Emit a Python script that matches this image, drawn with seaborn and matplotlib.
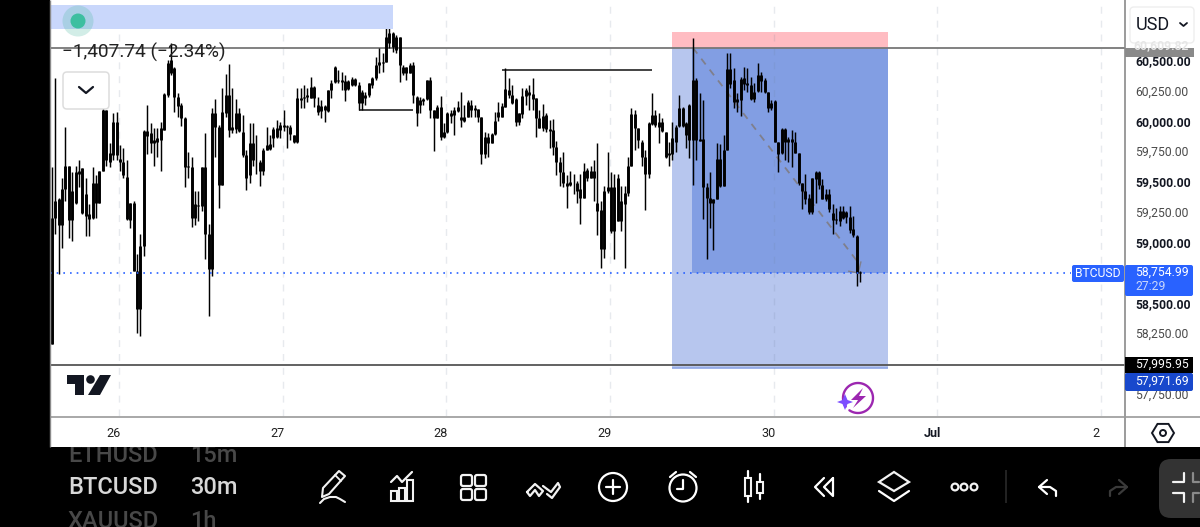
import numpy as np
import pandas as pd
import matplotlib
matplotlib.use("Agg")
import matplotlib.pyplot as plt
import seaborn as sns
from matplotlib.patches import Rectangle, FancyBboxPatch, Circle, Polygon
from matplotlib.transforms import ScaledTranslation

# BTCUSD 30-minute candles, 25 Jun to 30 Jun
highs = [59624,60359,59376,59541,59954,59632,59583,59640,59682,59616,59541,59326,59624,59558,59599,60153,60095,59822,60070,60078,
59806,59781,59682,59335,59351,58913,59078,59930,60136,59987,59946,59946,59996,60236,60508,60649,60450,60236,60153,60037,
59748,59707,59434,59434,59624,59905,59161,60112,60186,59971,60277,60392,60475,60277,60186,60112,60054,59764,59987,59987,
59888,59682,59781,59954,59888,59954,60012,59996,60095,59971,59971,59888,60277,60277,60302,60277,60368,60293,60202,60178,
60136,60260,60343,60459,60425,60409,60384,60343,60368,60359,60326,60260,60244,60318,60368,60533,60607,60566,60822,60822,
60740,60715,60698,60467,60450,60483,60492,60211,60202,60194,60343,60368,60095,60136,60211,59987,60078,60095,60120,60169,
60244,60136,60178,60178,60136,60103,60037,59913,59905,59905,60078,60161,60153,60442,60359,60302,60194,60070,60277,60277,
60302,60359,60194,60095,60145,60070,60012,60021,59839,59707,59748,59558,59599,59574,59516,59574,59657,59616,59640,59682,
59822,59351,59475,59748,59583,59574,59574,59475,59475,59707,60112,60095,59946,59847,59764,59996,60236,60095,60070,60029,
59913,59831,59996,59971,60219,60120,59996,60145,60690,60359,60236,60178,59492,59583,59368,59822,59814,59888,60566,60566,
60442,60236,60368,60450,60442,60368,60318,60483,60409,60359,60244,60178,60178,59831,59946,59946,59872,59930,59913,59740,
59500,59574,59409,59541,59599,59599,59533,59450,59450,59326,59293,59310,59310,59269,59310,59227,59070,58773]
body_tops = [59211,59351,59368,59450,59632,59632,59434,59583,59599,59616,59409,59244,59500,59500,59599,60095,60095,59740,59996,59996,
59690,59673,59549,59335,59335,58773,58979,59921,59921,59905,59847,59864,59946,60227,60483,60508,60442,60202,60136,60029,
59632,59624,59326,59318,59624,59624,59078,60070,60070,59954,60078,60219,60219,59954,60070,60070,59913,59723,59822,59822,
59673,59673,59764,59806,59814,59938,59946,59971,59971,59963,59954,59888,60194,60194,60202,60219,60285,60285,60136,60128,
60128,60260,60318,60450,60343,60343,60335,60335,60351,60351,60302,60244,60219,60318,60359,60467,60492,60492,60698,60731,
60731,60698,60698,60450,60450,60467,60467,60202,60178,60186,60343,60343,60095,60120,60120,59913,60070,60070,60095,60120,
60037,60037,60161,60136,60112,60103,60037,59872,59872,59897,60004,60078,60128,60269,60260,60219,60186,60070,60211,60260,
60244,60227,60194,60029,60045,60054,59938,59930,59789,59665,59583,59492,59508,59500,59500,59450,59599,59607,59599,59599,
59335,59277,59434,59459,59459,59459,59541,59351,59417,59640,60062,60062,59946,59831,59707,59987,60054,60054,59996,59996,
59913,59740,59864,59954,60112,60112,59987,60136,60343,60343,59855,59855,59459,59376,59368,59690,59690,59764,60434,60434,
60343,60186,60351,60359,60318,60302,60244,60384,60384,60343,60244,60153,60169,59831,59938,59938,59855,59855,59831,59740,
59500,59434,59376,59541,59583,59583,59483,59409,59409,59252,59202,59269,59269,59260,59219,59120,59062,58764]
body_bottoms = [58169,59211,59153,59153,59450,59194,59194,59335,59574,59252,59227,59202,59211,59335,59335,59599,59682,59673,59723,59723,
59665,59558,59202,59194,58773,58459,58459,58979,59880,59822,59822,59831,59847,59930,60219,60401,60202,60128,60029,59624,
59624,59211,59211,59310,59310,59078,58789,58789,59954,59483,59483,60070,59930,59930,59938,59921,59723,59541,59558,59682,
59665,59599,59599,59764,59773,59864,59872,59930,59954,59954,59897,59831,59831,60178,60194,60202,60194,60194,60078,60087,
60095,60087,60260,60326,60335,60326,60260,60269,60302,60302,60153,60153,60194,60219,60302,60359,60467,60483,60492,60649,
60616,60591,60467,60401,60401,60401,60219,60070,60136,60169,60186,60095,60029,60029,59872,59872,59913,60045,60054,60087,
60012,60004,60037,60095,60095,60037,59731,59731,59822,59822,59897,60037,60037,60120,60219,60153,59996,59996,60062,60211,
60219,60186,60029,59946,59946,59938,59921,59789,59665,59583,59492,59475,59483,59492,59434,59376,59376,59541,59541,59541,
59269,58954,58954,59434,59103,59103,59186,59186,59326,59417,59640,59946,59847,59707,59574,59574,59979,59971,59954,59921,
59707,59723,59731,59831,59963,59963,59888,59847,59847,59847,59839,59459,59376,59335,59335,59368,59475,59475,59764,60310,
60161,60161,60178,60310,60302,60186,60186,60252,60335,60244,60112,60112,59831,59731,59740,59831,59831,59831,59740,59500,
59426,59368,59260,59260,59533,59483,59368,59368,59285,59194,59194,59186,59211,59219,59112,59070,58755,58755]
lows = [58169,59078,58748,58963,59351,59045,59021,59326,59459,59244,59062,59062,59202,59211,59335,59599,59640,59624,59682,59682,
59599,59541,59194,59128,58773,58260,58236,58897,59731,59740,59632,59707,59599,59930,60202,60384,60078,60037,59963,59467,
59541,59136,59153,59186,59269,58872,58401,58731,59707,59293,59483,60037,59872,59905,59905,59913,59707,59442,59500,59640,
59574,59475,59566,59764,59764,59789,59864,59864,59921,59781,59847,59822,59822,60112,60112,60161,60194,60120,60054,60029,
59996,60078,60194,60318,60318,60260,60169,60260,60293,60293,60095,60095,60136,60202,60277,60343,60401,60409,60492,60607,
60574,60566,60326,60384,60343,60401,60153,59963,60070,60136,60178,60029,59756,60029,59847,59864,59905,59987,59888,60078,
59954,59996,60037,60037,60037,59996,59649,59698,59707,59822,59888,60004,60037,60120,60194,60145,59963,59971,60029,60136,
60095,60095,59872,59946,59921,59913,59781,59723,59558,59475,59459,59293,59475,59409,59335,59161,59376,59516,59541,59351,
59070,58798,58880,59417,59087,58872,59186,59103,58798,59392,59640,59764,59781,59640,59277,59541,59971,59954,59822,59913,
59698,59632,59682,59748,59954,59954,59781,59698,59483,59682,59839,59202,58872,59128,58946,59368,59459,59475,59764,60277,
60112,60078,60045,60260,60244,60178,60161,60244,60244,60236,60078,60095,59831,59583,59731,59682,59673,59624,59740,59483,
59285,59326,59244,59244,59335,59450,59368,59351,59260,59078,59161,59145,59202,59169,59087,59054,58649,58682]

shown_price_ticks = [60500,60250,60000,59750,59500,59250,59000,58500,58250,57750]
day_labels = ["26","27","28","29","30","Jul","2"]
day_starts = [19.7,67.7,115.7,163.7,211.7,259.7,307.7]

last_price = 58754.99
stop_level = 60740
entry_level = 60609.82
target_level = 57971.69
alert_level = 57995.95
change_text = "\u22121,407.74 (\u22122.34%)"
tag_labels = ["58,754.99","27:29","57,995.95","57,971.69"]
symbols = ["ETHUSD","BTCUSD","XAUUSD"]
intervals = ["15m","30m","1h"]

sns.set_theme(style="white", rc={"lines.solid_capstyle":"butt","axes.grid":False})
plt.rcParams["font.family"] = ["Roboto","DejaVu Sans"]

W, H = 1200, 527
fig = plt.figure(figsize=(12,5.27), dpi=100, facecolor="black")

def box(x0,y0,x1,y1):
    return [x0/W, 1-y1/H, (x1-x0)/W, (y1-y0)/H]

# Backdrop: symbol list under the white chart panel
back = fig.add_axes([0,0,1,1], zorder=0)
back.set_xlim(0,W); back.set_ylim(H,0); back.axis("off")
for s,i,y,col in zip(symbols,intervals,[455,487,521],["#484848","#d8d8d8","#484848"]):
    back.text(68,y,s,color=col,fontsize=17,va="center",ha="left",fontweight="medium")
    back.text(190,y,i,color=col,fontsize=17,va="center",ha="left",fontweight="medium")
back.add_patch(Rectangle((50,0),1150,447,fc="white",ec="none",zorder=5))

# Candle chart
ax = fig.add_axes(box(50,0,1125,416), zorder=1, facecolor="none")
n = len(highs)
idx = np.arange(n)
wicks = pd.DataFrame({"candle":np.r_[idx,idx],"price":np.r_[highs,lows]})
bodies = pd.DataFrame({"candle":np.r_[idx,idx],"price":np.r_[body_tops,body_bottoms]})

ax.set_xlim(-0.5,314.7)
ax.set_ylim(57576,61004)

# Long-position tool behind the candles
ax.add_patch(Rectangle((181.9,entry_level),63.3,stop_level-entry_level,fc="#ffbcc2",ec="none",zorder=1))
ax.add_patch(Rectangle((181.9,target_level),63.3,entry_level-target_level,fc="#b7c6ee",ec="none",zorder=1))
ax.add_patch(Rectangle((187.6,last_price),57.6,entry_level-last_price,fc="#829ee3",ec="none",zorder=1))
ax.plot([181.9,245.2],[target_level,target_level],color="#8ea6e6",lw=1.2,zorder=1.2)

for d in day_starts:
    ax.axvline(d,color="#6f7f9a",alpha=0.16,lw=1,ls=(0,(5,5)),zorder=1.5)

ax.plot([188,236.5],[entry_level,58840],color="#7f7f8c",lw=1.3,ls=(0,(4,3.6)),zorder=1.6)
ax.plot([233.5,236.5,237.3],[58770,58755,58850],color="#7f7f8c",lw=1.0,zorder=1.6)

ax.axhline(entry_level,color="#777777",lw=1.3,zorder=1.8)
ax.axhline(alert_level,color="#555555",lw=1.3,zorder=1.8)
ax.plot([-0.5,299],[last_price,last_price],color="#2962ff",lw=1.2,ls=(0,(1,3)),zorder=3.5)

# Swing-level lines
ax.plot([90.2,106],[60095,60095],color="#222222",lw=1.2,zorder=2)
ax.plot([132,176],[60425,60425],color="#222222",lw=1.2,zorder=2)

sns.lineplot(data=wicks,x="candle",y="price",units="candle",estimator=None,sort=False,
             color="black",lw=1.05,legend=False,ax=ax,zorder=3)
sns.lineplot(data=bodies,x="candle",y="price",units="candle",estimator=None,sort=False,
             color="black",lw=2.1,legend=False,ax=ax,zorder=3.1)

ax.set_xlabel(""); ax.set_ylabel("")
ax.set_xticks(day_starts); ax.set_xticklabels(day_labels)
ax.yaxis.tick_right()
ax.set_yticks(shown_price_ticks)
ax.set_yticklabels([f"{p:,.2f}" for p in shown_price_ticks])
ax.tick_params(axis="y",length=0,pad=7.2,labelsize=8.7)
ax.tick_params(axis="x",length=0,pad=8,labelsize=9.1)
lift = ScaledTranslation(0,1/100,fig.dpi_scale_trans)
for lab,p in zip(ax.get_yticklabels(),shown_price_ticks):
    lab.set_transform(lab.get_transform()+lift)
    if p % 500 == 0:
        lab.set_fontweight("bold"); lab.set_color("#131722")
    else:
        lab.set_color("#4a4a4a")
shift = ScaledTranslation(-5.5/100,0,fig.dpi_scale_trans)
for lab,t in zip(ax.get_xticklabels(),day_labels):
    lab.set_transform(lab.get_transform()+shift)
    lab.set_color("#222222")
    if t == "Jul":
        lab.set_fontweight("bold"); lab.set_color("#131722")
for sp in ax.spines.values():
    sp.set_visible(False)

# Interface elements drawn over the chart
ui = fig.add_axes([0,0,1,1], zorder=2, facecolor="none")
ui.set_xlim(0,W); ui.set_ylim(H,0); ui.axis("off")

def rect(x0,y0,x1,y1,fc,z=2,**kw):
    ui.add_patch(Rectangle((x0,y0),x1-x0,y1-y0,fc=fc,ec="none",zorder=z,**kw))
def rbox(x0,y0,x1,y1,fc,ec="none",r=3,z=3,lw=1):
    ui.add_patch(FancyBboxPatch((x0+r,y0+r),x1-x0-2*r,y1-y0-2*r,boxstyle=f"round,pad={r},rounding_size={r}",
                                fc=fc,ec=ec,lw=lw,zorder=z))
def stroke(xs,ys,col="white",lw=1.6,z=6):
    ui.plot(xs,ys,color=col,lw=lw,zorder=z,solid_capstyle="round",solid_joinstyle="round")
def ring(x,y,r,col="white",lw=1.6,z=6):
    ui.add_patch(Circle((x,y),r,fc="none",ec=col,lw=lw,zorder=z))

# panel dividers
ui.plot([1124.5,1124.5],[0,447],color="#8a8a8a",lw=1.2,zorder=2)
ui.plot([50,1200],[416.5,416.5],color="#9a9a9a",lw=1.2,zorder=2)
ui.plot([50,50],[0,447],color="#8a8a8a",lw=1,zorder=2)

# top-left legend strip
rect(50,5,393,29,"#c9d7fb",z=1.5)
ui.add_patch(Circle((78,21),15.5,fc="#4cb8a0",alpha=0.25,ec="none",zorder=2))
ui.add_patch(Circle((78,21),7.5,fc="#3dbfa0",ec="none",zorder=3))
ui.text(62,52,change_text,fontsize=13.7,color="#222222",va="center",ha="left",zorder=4)
rbox(63,72,109,109,"white","#dddddd",r=4,lw=1.1)
stroke([79,86,93],[87,93,87],"#131722",1.6)

# price tags
rect(1125,48,1194,57,"#8a8a8a",z=3)
back_tag = ui.text(1161,46,"60,609.82",fontsize=8.7,color="#e6e6e6",va="center",ha="center",zorder=4,fontweight="bold")
back_tag.set_clip_path(Rectangle((1125,48),69,9,transform=ui.transData))

# currency selector
rbox(1130,7,1194,43,"white","#eeeeee",r=4)
ui.text(1136,25,"USD",fontsize=13,color="#131722",va="center",ha="left",zorder=5)
stroke([1180,1183.5,1187],[23,26,23],"#131722",1.3)

rbox(1072,265,1124,282,"#2962ff",r=2)
ui.text(1098,273.5,"BTCUSD",fontsize=8.7,color="white",va="center",ha="center",zorder=5)
rbox(1125,265,1193,296,"#2962ff",r=2)
ui.text(1135,272.5,tag_labels[0],fontsize=8.7,color="white",va="center",ha="left",zorder=5)
ui.text(1135,287,tag_labels[1],fontsize=8.7,color="#c9d7fb",va="center",ha="left",zorder=5)
rect(1125,357,1193,373,"black",z=3)
ui.text(1135,364.5,tag_labels[2],fontsize=8.7,color="white",va="center",ha="left",zorder=5)
rbox(1125,373,1193,391,"#1848cc",r=2)
ui.text(1135,381,tag_labels[3],fontsize=8.7,color="white",va="center",ha="left",zorder=5)

# watermark logo
ui.add_patch(Polygon([(67,375),(84,375),(84,395),(75,395),(75,384),(67,384)],fc="#131722",ec="none",zorder=3))
ui.add_patch(Circle((90.5,379.5),4.3,fc="#131722",ec="none",zorder=3))
ui.add_patch(Polygon([(100,375),(111,375),(100,395),(88,395)],fc="#131722",ec="none",zorder=3))

# boost badge
theta = np.radians(np.linspace(-215,125,80))
stroke(858+15*np.cos(theta),398+15*np.sin(theta),"#9c27b0",1.7)
ui.add_patch(Polygon([(863,388),(851,400),(858,400),(853,408),(866,396),(859,396)],fc="#9c27b0",ec="none",zorder=6))
ui.add_patch(Polygon([(845,394),(847.5,400),(853,402),(847.5,404),(845,410),(842.5,404),(837,402),(842.5,400)],fc="#7c4dff",ec="none",zorder=7))

# settings hexagon
a = np.radians(np.arange(0,360,60))
ui.add_patch(Polygon(np.c_[1163+11*np.cos(a),433+10.5*np.sin(a)],fc="none",ec="#131722",lw=1.4,zorder=6))
ring(1163,433,3,"#131722",1.4)

# bottom toolbar icons
ic = "#f2f2f2"
ui.add_patch(Polygon([(322,497),(323,488),(339,471),(345,476),(329,494)],fc="none",ec=ic,lw=1.5,zorder=6,joinstyle="round"))
stroke([335,341],[475,481],ic,1.3)
stroke([320,324,330,336,340,345],[503,499,497,497,499,502],ic,1.5)
stroke([391,397,402,412],[482,476,482,472],ic)
for x0,y0 in [(391,491),(399,488),(407,480)]:
    ui.add_patch(Rectangle((x0,y0),6,500.5-y0,fc="none",ec=ic,lw=1.5,zorder=6))
for x0,y0 in [(461,475),(475,475),(461,489),(475,489)]:
    ui.add_patch(FancyBboxPatch((x0+2,y0+2),7,7,boxstyle="round,pad=2,rounding_size=2",fc="none",ec=ic,lw=1.6,zorder=6))
stroke([527,535,543,539,535,530,527],[492,484,491,496,490,496,492],ic)
stroke([543,551,558,560,552,547],[486,492,483,487,498,494],ic)
ring(613,487,14); stroke([613,613],[480,494]); stroke([606,620],[487,487])
ring(683,488,13.5); stroke([683,683,677],[480,489,489])
stroke([670,676],[477,472]); stroke([690,696],[472,477])
ui.add_patch(Rectangle((745,478),6,18,fc="none",ec=ic,lw=1.5,zorder=6))
ui.add_patch(Rectangle((757,482),6,11,fc="none",ec=ic,lw=1.5,zorder=6))
stroke([748,748],[471,478]); stroke([748,748],[496,502])
stroke([760,760],[474,482]); stroke([760,760],[493,499])
stroke([824,815,824],[478,487,496]); stroke([833,824,833,833],[478,487,496,478])
ui.add_patch(Polygon([(894,472),(909,482),(894,491),(879,482)],fc="none",ec=ic,lw=1.6,zorder=6))
stroke([879,894,909],[491,501,491])
for x in [955,964,974]:
    ring(x,487,3.4,ic,1.6)
ui.plot([1006,1006],[470,503],color="#2a2a2a",lw=1.2,zorder=6)
stroke([1047,1039,1047],[480,487,494]); stroke([1039,1050,1056,1056],[487,487,491,496])
stroke([1119,1127,1119],[480,487,494],"#3a3a3a"); stroke([1127,1116,1110,1110],[487,487,491,496],"#3a3a3a")

# fullscreen button, fading to the right edge
rbox(1159,459,1215,518,"#333333",r=12,z=4)
stroke([1173,1184,1184],[482,482,473],"#f2f2f2")
stroke([1173,1184,1184],[493,493,502],"#f2f2f2")
stroke([1193,1193,1199],[473,482,482],"#8a8a8a")
stroke([1193,1193,1199],[502,493,493],"#8a8a8a")

fig.savefig("out.png",dpi=100,facecolor="black")
